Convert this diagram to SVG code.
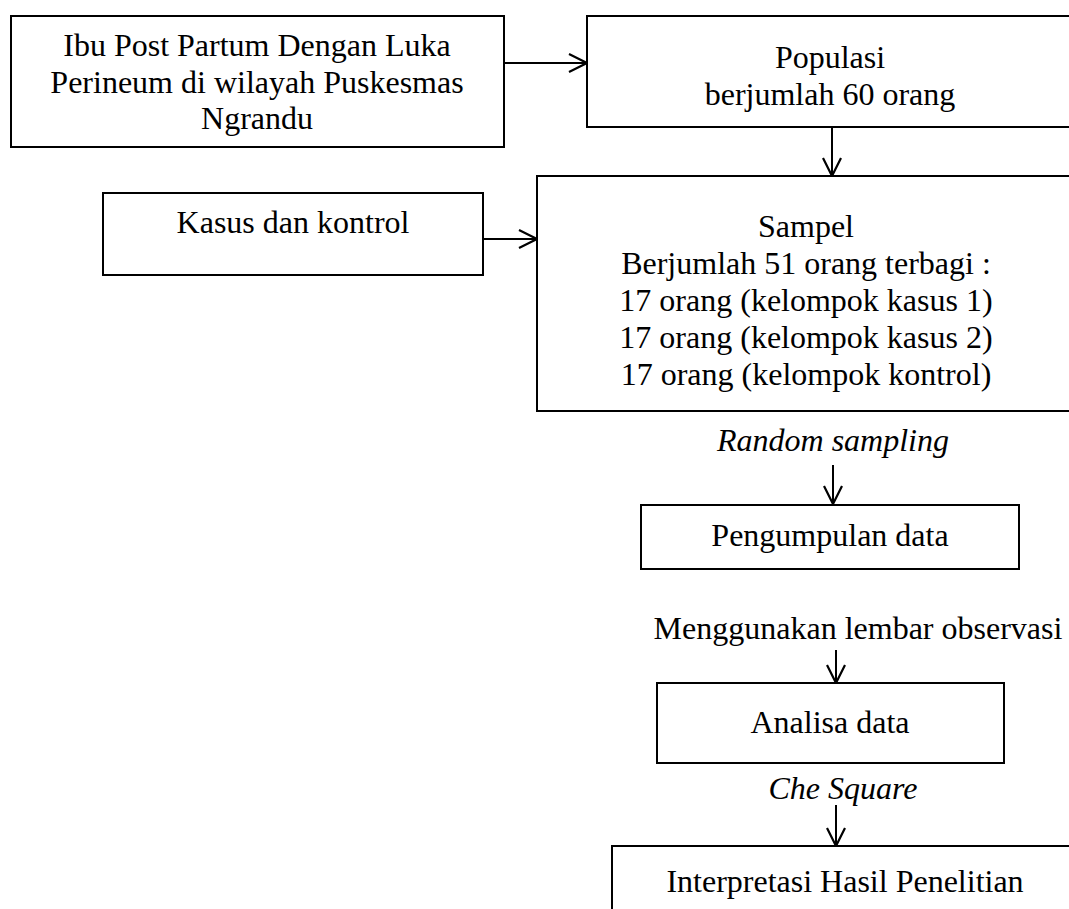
<svg xmlns="http://www.w3.org/2000/svg" width="1069" height="909" viewBox="0 0 1069 909">
<style>
.box{fill:#fff;stroke:#000;stroke-width:2}
.t{font-family:"Liberation Serif","Times New Roman",serif;font-size:32px;fill:#000;text-anchor:middle}
.i{font-style:italic}
.c{stroke:#000;stroke-width:2;fill:none}
</style>
<defs>
<marker id="ah" markerWidth="22" markerHeight="22" refX="20" refY="11" orient="auto" markerUnits="userSpaceOnUse">
<path d="M2,2 L20,11 L2,20" fill="none" stroke="#000" stroke-width="2.2"/>
</marker>
</defs>
<rect width="1069" height="909" fill="#fff"/>
<g id="connectors">
<line class="c" x1="505" y1="63" x2="587" y2="63" marker-end="url(#ah)"/>
<line class="c" x1="832" y1="127" x2="832" y2="176" marker-end="url(#ah)"/>
<line class="c" x1="483" y1="239" x2="537" y2="239" marker-end="url(#ah)"/>
<line class="c" x1="833" y1="465" x2="833" y2="504" marker-end="url(#ah)"/>
<line class="c" x1="836" y1="650" x2="836" y2="683" marker-end="url(#ah)"/>
<line class="c" x1="836" y1="805" x2="836" y2="846" marker-end="url(#ah)"/>
</g>
<g id="n1">
<rect class="box" x="11" y="16" width="493" height="131"/>
<text class="t" x="257" y="56">Ibu Post Partum Dengan Luka</text>
<text class="t" x="257" y="93">Perineum di wilayah Puskesmas</text>
<text class="t" x="257" y="129">Ngrandu</text>
</g>
<g id="n2">
<rect class="box" x="587" y="16" width="490" height="111"/>
<text class="t" x="830" y="68">Populasi</text>
<text class="t" x="830" y="105">berjumlah 60 orang</text>
</g>
<g id="n3">
<rect class="box" x="103" y="193" width="380" height="82"/>
<text class="t" x="293" y="233">Kasus dan kontrol</text>
</g>
<g id="n4">
<rect class="box" x="537" y="176" width="540" height="235"/>
<text class="t" x="806" y="237">Sampel</text>
<text class="t" x="806" y="274">Berjumlah 51 orang terbagi :</text>
<text class="t" x="806" y="311">17 orang (kelompok kasus 1)</text>
<text class="t" x="806" y="348">17 orang (kelompok kasus 2)</text>
<text class="t" x="806" y="385">17 orang (kelompok kontrol)</text>
</g>
<g id="l1"><text class="t i" x="833" y="451">Random sampling</text></g>
<g id="n5">
<rect class="box" x="641" y="505" width="378" height="64"/>
<text class="t" x="830" y="546">Pengumpulan data</text>
</g>
<g id="l2"><text class="t" x="858" y="639">Menggunakan lembar observasi</text></g>
<g id="n6">
<rect class="box" x="657" y="683" width="347" height="80"/>
<text class="t" x="830" y="733">Analisa data</text>
</g>
<g id="l3"><text class="t i" x="843" y="799">Che Square</text></g>
<g id="n7">
<rect class="box" x="612" y="846" width="470" height="70"/>
<text class="t" x="845" y="892">Interpretasi Hasil Penelitian</text>
</g>
</svg>
